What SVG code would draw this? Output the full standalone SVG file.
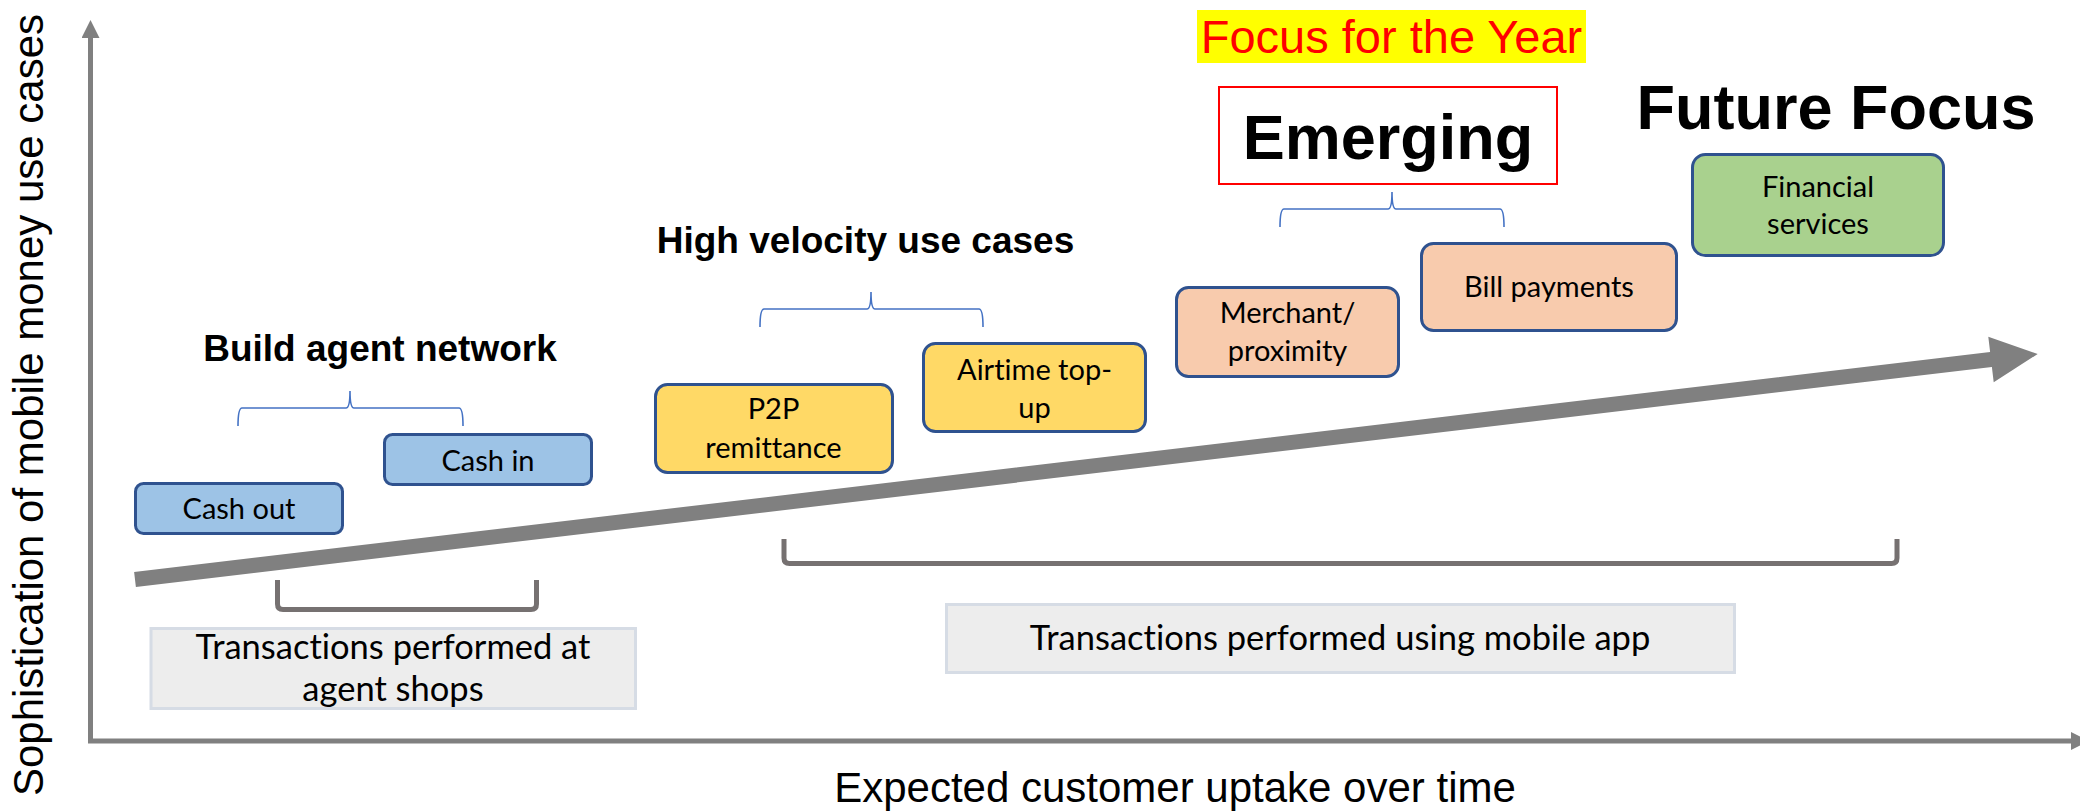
<svg xmlns="http://www.w3.org/2000/svg" width="2080" height="811" viewBox="0 0 2080 811">
<style>
.ax{fill:none;stroke:#808080;stroke-width:5}
.brace{fill:none;stroke:#4472C4;stroke-width:1.6}
.bracket{fill:none;stroke:#767171;stroke-width:5;stroke-linejoin:round}
.box{stroke:#2F528F;stroke-width:3}
.blue{fill:#9DC3E6}.yellow{fill:#FFD966}.peach{fill:#F8CBAD}.green{fill:#A9D18E}
.gbox{fill:#EDEDED;stroke:#D6DCE5;stroke-width:3}
.bt{font-family:Lato,"Open Sans",sans-serif;font-size:29px;fill:#000;text-anchor:middle;font-variant-ligatures:none}
.gt{font-family:Lato,"Open Sans",sans-serif;font-size:34.5px;fill:#000;text-anchor:middle;font-variant-ligatures:none}
.hd{font-family:"Liberation Sans",Arial,sans-serif;font-weight:bold;fill:#000;text-anchor:middle}
.ar{font-family:"Liberation Sans",Arial,sans-serif;fill:#000;text-anchor:middle}
</style>
<defs>
<marker id="ah" markerUnits="userSpaceOnUse" markerWidth="18" markerHeight="18" refX="0" refY="9" orient="auto-start-reverse" viewBox="0 0 18 18">
<path d="M0,0 L18,9 L0,18 z" fill="#808080"/>
</marker>
</defs>
<rect width="2080" height="811" fill="#fff"/>

<g id="connectors">
<path id="axes" class="ax" d="M90.5,38 V741 H2071" marker-start="url(#ah)" marker-end="url(#ah)"/>
<polygon id="growth-arrow" fill="#808080" transform="translate(135,579.5) rotate(-6.76)" points="0,-7.5 1869,-7.5 1869,-23 1916,0 1869,23 1869,7.5 0,7.5"/>
<path class="brace" d="M238,426 Q238,408 242,408 L346,408 Q350,408 350,391 Q350,408 354,408 L459,408 Q463,408 463,426"/>
<path class="brace" d="M760,327 Q760,309 764,309 L867,309 Q871,309 871,292 Q871,309 875,309 L979,309 Q983,309 983,327"/>
<path class="brace" d="M1280,227 Q1280,209 1284,209 L1388,209 Q1392,209 1392,192 Q1392,209 1396,209 L1500,209 Q1504,209 1504,227"/>
<path class="bracket" d="M277.5,580 V604 Q277.5,609.5 283,609.5 H531 Q536.5,609.5 536.5,604 V580"/>
<path class="bracket" d="M784,539 V558 Q784,563.5 789.5,563.5 H1891.5 Q1897,563.5 1897,558 V539"/>
</g>

<g id="axis-labels">
<text class="ar" font-size="42" transform="translate(43,405) rotate(-90)">Sophistication of mobile money use cases</text>
<text class="ar" font-size="42" x="1175" y="802">Expected customer uptake over time</text>
</g>

<g id="heading-build">
<text class="hd" font-size="37" x="380" y="361">Build agent network</text>
</g>
<g id="heading-high">
<text class="hd" font-size="37" x="865.5" y="253">High velocity use cases</text>
</g>
<g id="heading-focus-year">
<rect x="1197" y="10" width="389" height="53" fill="#FFFF00"/>
<text class="ar" font-size="47" x="1391.5" y="53" style="fill:#FF0000">Focus for the Year</text>
</g>
<g id="heading-emerging">
<rect x="1219" y="87" width="338" height="97" fill="#fff" stroke="#FF0000" stroke-width="2"/>
<text class="hd" font-size="63" x="1388" y="159">Emerging</text>
</g>
<g id="heading-future">
<text class="hd" font-size="63" x="1836" y="129">Future Focus</text>
</g>

<g id="cash-out">
<rect class="box blue" x="135.5" y="483.5" width="207" height="50" rx="8"/>
<text class="bt" x="239" y="519">Cash out</text>
</g>
<g id="cash-in">
<rect class="box blue" x="384.5" y="434.5" width="207" height="50" rx="8"/>
<text class="bt" x="488" y="471">Cash in</text>
</g>
<g id="p2p">
<rect class="box yellow" x="655.5" y="384.5" width="237" height="88" rx="12"/>
<text class="bt" x="773.5" y="419">P2P</text>
<text class="bt" x="773.5" y="458">remittance</text>
</g>
<g id="airtime">
<rect class="box yellow" x="923.5" y="343.5" width="222" height="88" rx="12"/>
<text class="bt" x="1034.5" y="380">Airtime top-</text>
<text class="bt" x="1034.5" y="418">up</text>
</g>
<g id="merchant">
<rect class="box peach" x="1176.5" y="287.5" width="222" height="89" rx="12"/>
<text class="bt" x="1287.5" y="323">Merchant/</text>
<text class="bt" x="1287.5" y="361">proximity</text>
</g>
<g id="bill">
<rect class="box peach" x="1421.5" y="243.5" width="255" height="87" rx="12"/>
<text class="bt" x="1549" y="297">Bill payments</text>
</g>
<g id="financial">
<rect class="box green" x="1692.5" y="154.5" width="251" height="101" rx="13"/>
<text class="bt" x="1818" y="197">Financial</text>
<text class="bt" x="1818" y="234">services</text>
</g>

<g id="agent-shops">
<rect class="gbox" x="151" y="628.5" width="484.5" height="80"/>
<text class="gt" x="393" y="659">Transactions performed at</text>
<text class="gt" x="393" y="701">agent shops</text>
</g>
<g id="mobile-app">
<rect class="gbox" x="946.5" y="604.5" width="788" height="68"/>
<text class="gt" x="1340" y="650">Transactions performed using mobile app</text>
</g>
</svg>
